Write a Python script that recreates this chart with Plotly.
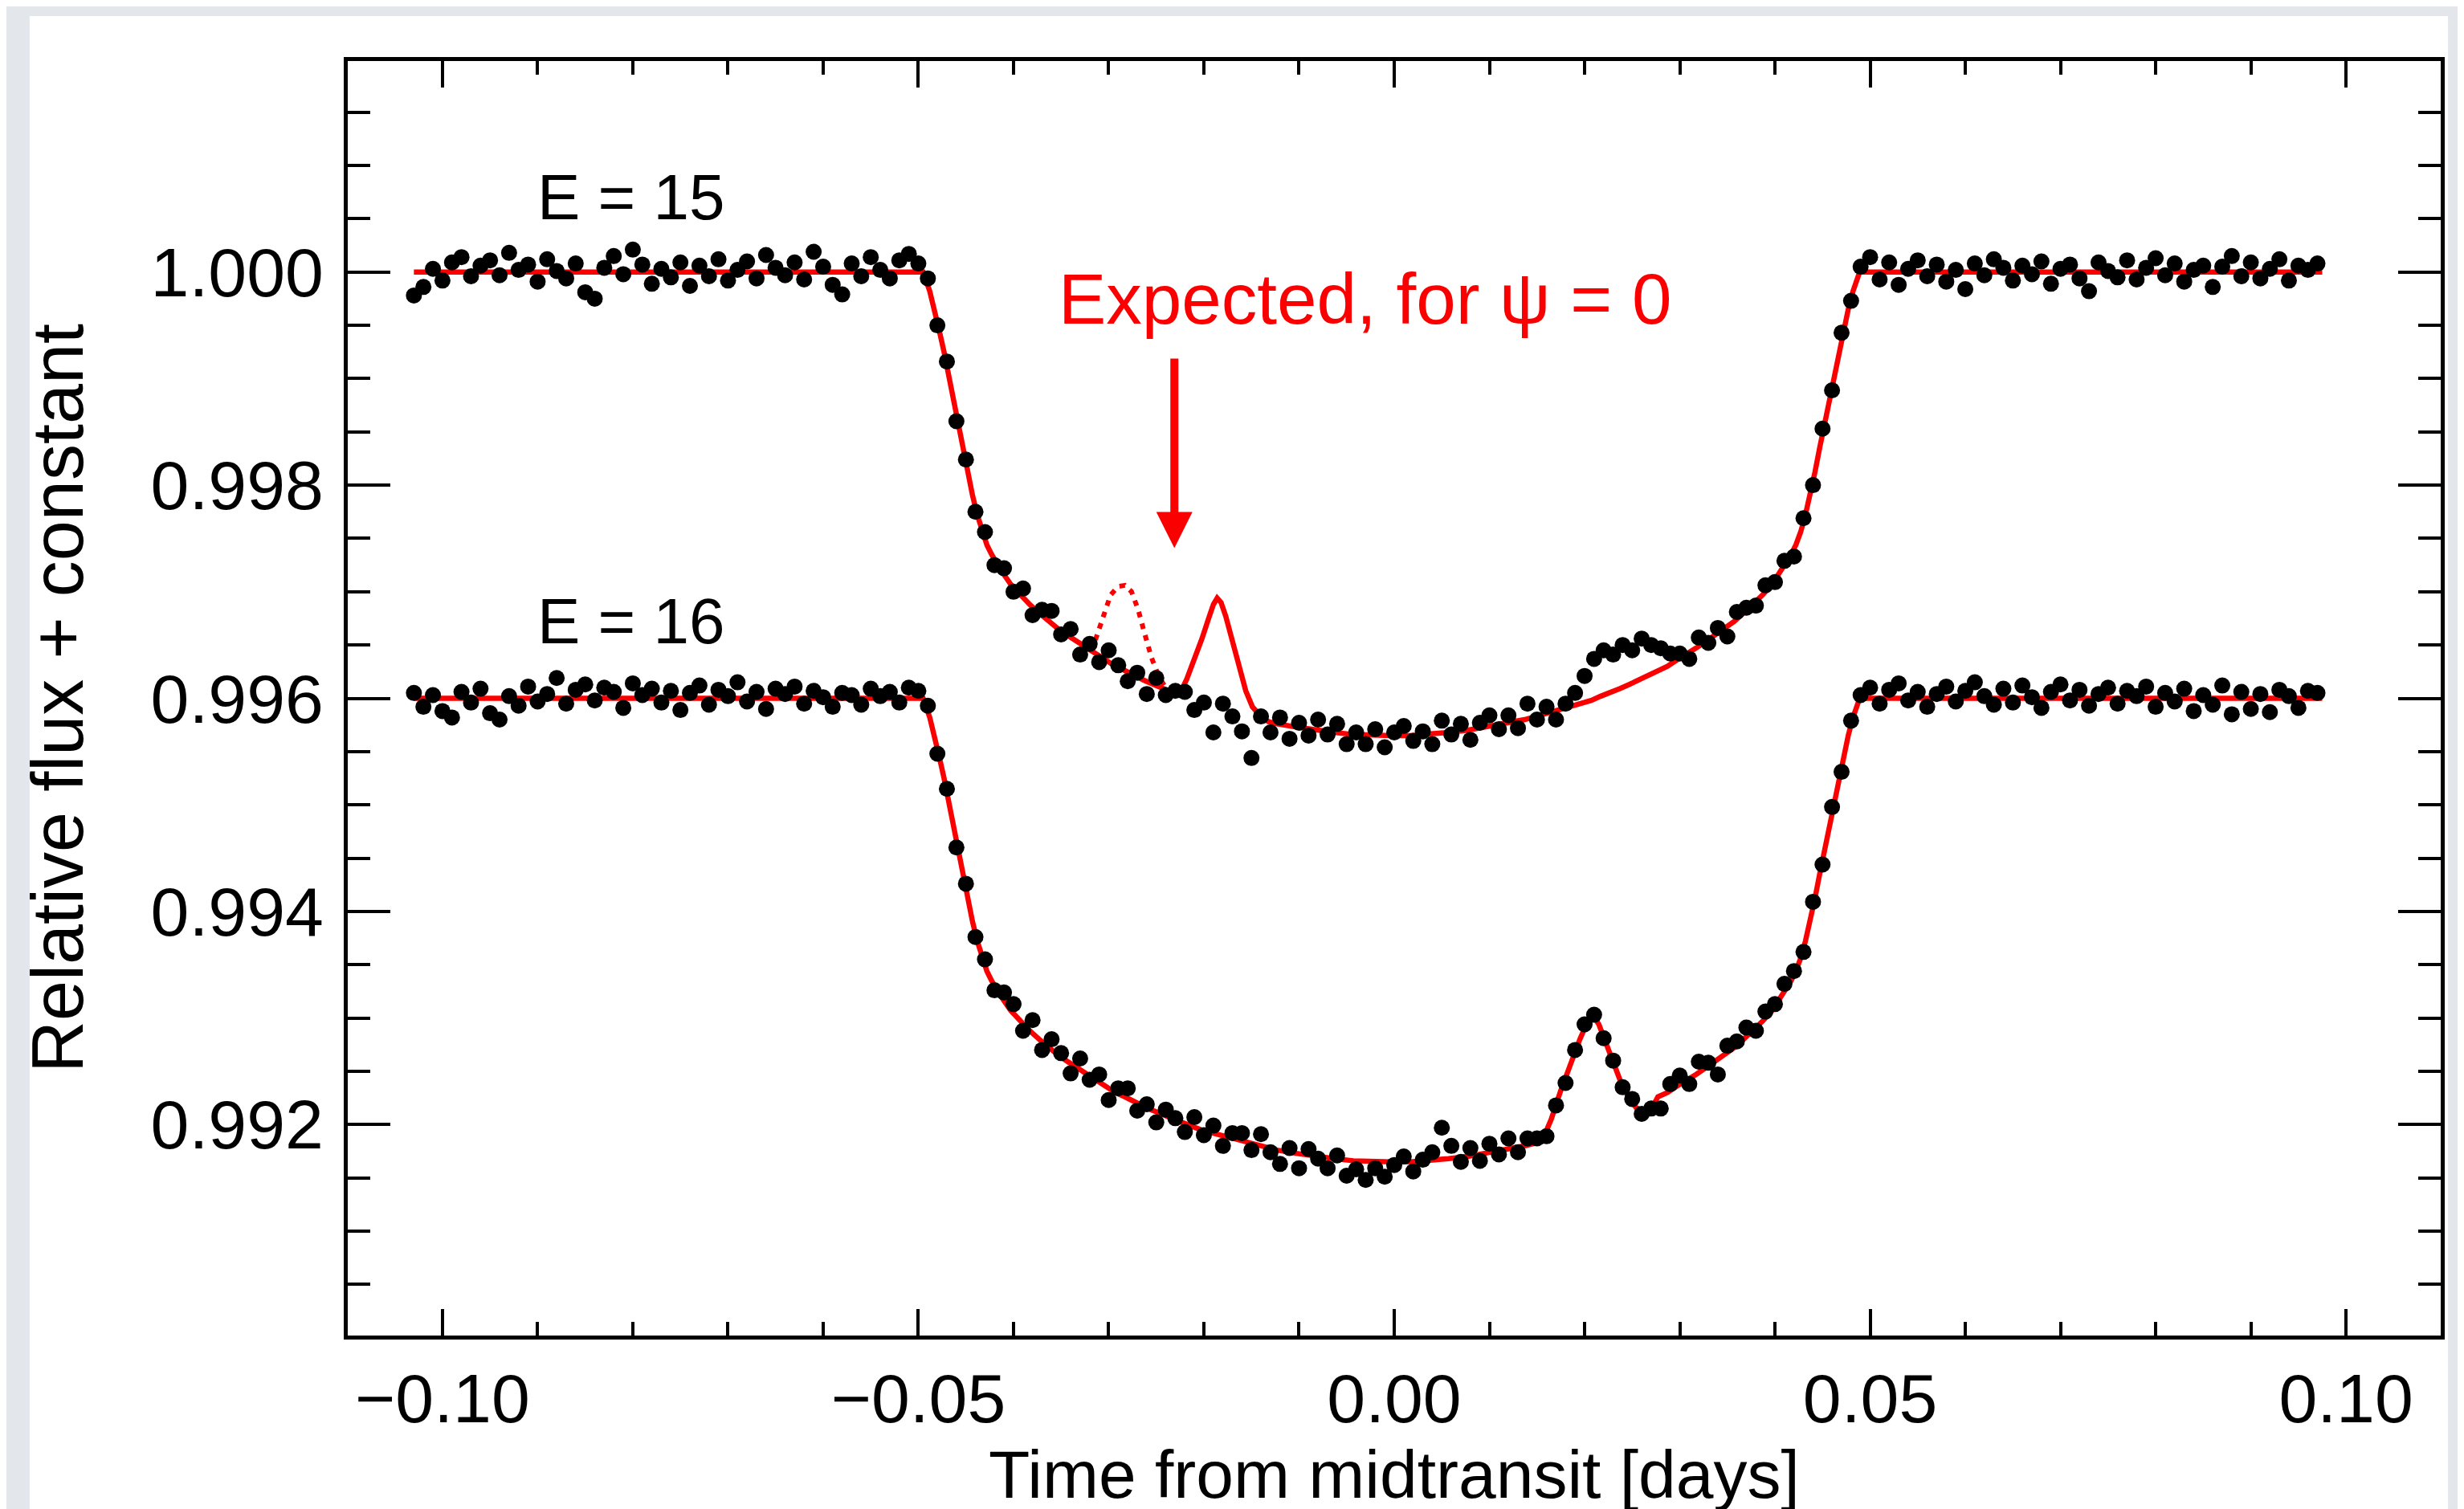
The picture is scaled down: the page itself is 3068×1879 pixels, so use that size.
import plotly.graph_objects as go

# ---------------- data ----------------
time_days = [
    -0.103, -0.102, -0.101, -0.100, -0.099, -0.098, -0.097, -0.096, -0.095, -0.094,
    -0.093, -0.092, -0.091, -0.090, -0.089, -0.088, -0.087, -0.086, -0.085, -0.084,
    -0.083, -0.082, -0.081, -0.080, -0.079, -0.078, -0.077, -0.076, -0.075, -0.074,
    -0.073, -0.072, -0.071, -0.070, -0.069, -0.068, -0.067, -0.066, -0.065, -0.064,
    -0.063, -0.062, -0.061, -0.060, -0.059, -0.058, -0.057, -0.056, -0.055, -0.054,
    -0.053, -0.052, -0.051, -0.050, -0.049, -0.048, -0.047, -0.046, -0.045, -0.044,
    -0.043, -0.042, -0.041, -0.040, -0.039, -0.038, -0.037, -0.036, -0.035, -0.034,
    -0.033, -0.032, -0.031, -0.030, -0.029, -0.028, -0.027, -0.026, -0.025, -0.024,
    -0.023, -0.022, -0.021, -0.020, -0.019, -0.018, -0.017, -0.016, -0.015, -0.014,
    -0.013, -0.012, -0.011, -0.010, -0.009, -0.008, -0.007, -0.006, -0.005, -0.004,
    -0.003, -0.002, -0.001, 0.000, 0.001, 0.002, 0.003, 0.004, 0.005, 0.006,
    0.007, 0.008, 0.009, 0.010, 0.011, 0.012, 0.013, 0.014, 0.015, 0.016,
    0.017, 0.018, 0.019, 0.020, 0.021, 0.022, 0.023, 0.024, 0.025, 0.026,
    0.027, 0.028, 0.029, 0.030, 0.031, 0.032, 0.033, 0.034, 0.035, 0.036,
    0.037, 0.038, 0.039, 0.040, 0.041, 0.042, 0.043, 0.044, 0.045, 0.046,
    0.047, 0.048, 0.049, 0.050, 0.051, 0.052, 0.053, 0.054, 0.055, 0.056,
    0.057, 0.058, 0.059, 0.060, 0.061, 0.062, 0.063, 0.064, 0.065, 0.066,
    0.067, 0.068, 0.069, 0.070, 0.071, 0.072, 0.073, 0.074, 0.075, 0.076,
    0.077, 0.078, 0.079, 0.080, 0.081, 0.082, 0.083, 0.084, 0.085, 0.086,
    0.087, 0.088, 0.089, 0.090, 0.091, 0.092, 0.093, 0.094, 0.095, 0.096, 0.097,
]

flux_e15 = [
    0.99978, 0.99986, 1.00003, 0.99992, 1.00009, 1.00014, 0.99996, 1.00006, 1.00011, 0.99997,
    1.00018, 1.00002, 1.00007, 0.99991, 1.00012, 1.00001, 0.99994, 1.00008, 0.99981, 0.99975,
    1.00004, 1.00015, 0.99998, 1.00021, 1.00007, 0.99989, 1.00003, 0.99995, 1.00009, 0.99987,
    1.00006, 0.99996, 1.00012, 0.99992, 1.00002, 1.00010, 0.99994, 1.00016, 1.00004, 0.99997,
    1.00009, 0.99993, 1.00019, 1.00005, 0.99988, 0.99979, 1.00008, 0.99996, 1.00014, 1.00002,
    0.99994, 1.00011, 1.00017, 1.00008, 0.99994, 0.99950, 0.99916, 0.99860, 0.99824, 0.99775,
    0.99756, 0.99725, 0.99722, 0.99700, 0.99703, 0.99678, 0.99683, 0.99682, 0.99660, 0.99665,
    0.99641, 0.99651, 0.99634, 0.99645, 0.99631, 0.99616, 0.99624, 0.99604, 0.99619, 0.99603,
    0.99607, 0.99606, 0.99589, 0.99596, 0.99568, 0.99595, 0.99583, 0.99569, 0.99544, 0.99583,
    0.99568, 0.99582, 0.99562, 0.99577, 0.99565, 0.99580, 0.99566, 0.99576, 0.99557, 0.99568,
    0.99557, 0.99571, 0.99554, 0.99568, 0.99574, 0.99560, 0.99569, 0.99557, 0.99579, 0.99566,
    0.99576, 0.99561, 0.99577, 0.99584, 0.99571, 0.99584, 0.99572, 0.99595, 0.99580, 0.99592,
    0.99580, 0.99595, 0.99605, 0.99621, 0.99637, 0.99645, 0.99641, 0.99650, 0.99645, 0.99656,
    0.99650, 0.99647, 0.99642, 0.99642, 0.99637, 0.99657, 0.99652, 0.99666, 0.99658, 0.99681,
    0.99685, 0.99687, 0.99706, 0.99709, 0.99729, 0.99733, 0.99769, 0.99800, 0.99853, 0.99889,
    0.99943, 0.99973, 1.00005, 1.00014, 0.99993, 1.00009, 0.99988, 1.00003, 1.00011, 0.99996,
    1.00007, 0.99991, 1.00002, 0.99984, 1.00008, 0.99997, 1.00012, 1.00004, 0.99992, 1.00006,
    0.99998, 1.00010, 0.99989, 1.00003, 1.00007, 0.99994, 0.99982, 1.00009, 1.00001, 0.99995,
    1.00011, 0.99993, 1.00004, 1.00013, 0.99997, 1.00008, 0.99991, 1.00002, 1.00006, 0.99986,
    1.00005, 1.00015, 0.99996, 1.00009, 0.99994, 1.00003, 1.00012, 0.99992, 1.00006, 1.00002, 1.00008,
]

flux_e16 = [
    0.99605, 0.99592, 0.99603, 0.99588, 0.99582, 0.99606, 0.99596, 0.99609, 0.99586, 0.99580,
    0.99602, 0.99593, 0.99611, 0.99597, 0.99604, 0.99619, 0.99595, 0.99608, 0.99613, 0.99598,
    0.99610, 0.99606, 0.99591, 0.99614, 0.99603, 0.99609, 0.99596, 0.99607, 0.99589, 0.99605,
    0.99612, 0.99594, 0.99608, 0.99602, 0.99615, 0.99597, 0.99606, 0.99590, 0.99609, 0.99604,
    0.99611, 0.99595, 0.99607, 0.99601, 0.99592, 0.99605, 0.99603, 0.99594, 0.99609, 0.99602,
    0.99606, 0.99596, 0.99610, 0.99607, 0.99593, 0.99548, 0.99515, 0.99460, 0.99426, 0.99376,
    0.99355, 0.99326, 0.99324, 0.99313, 0.99288, 0.99298, 0.99270, 0.99280, 0.99267, 0.99248,
    0.99262, 0.99242, 0.99247, 0.99223, 0.99234, 0.99234, 0.99213, 0.99219, 0.99202, 0.99214,
    0.99206, 0.99193, 0.99207, 0.99190, 0.99199, 0.99180, 0.99192, 0.99192, 0.99176, 0.99191,
    0.99174, 0.99163, 0.99178, 0.99159, 0.99177, 0.99168, 0.99159, 0.99171, 0.99152, 0.99158,
    0.99148, 0.99159, 0.99151, 0.99162, 0.99170, 0.99156, 0.99167, 0.99174, 0.99197, 0.99180,
    0.99165, 0.99178, 0.99166, 0.99182, 0.99172, 0.99187, 0.99174, 0.99187, 0.99187, 0.99189,
    0.99218, 0.99239, 0.99270, 0.99294, 0.99303, 0.99281, 0.99260, 0.99235, 0.99224, 0.99210,
    0.99215, 0.99215, 0.99238, 0.99246, 0.99238, 0.99259, 0.99258, 0.99247, 0.99274, 0.99278,
    0.99291, 0.99288, 0.99306, 0.99313, 0.99332, 0.99344, 0.99362, 0.99409, 0.99444, 0.99498,
    0.99531, 0.99579, 0.99603, 0.99610, 0.99595, 0.99608, 0.99614, 0.99598, 0.99606, 0.99592,
    0.99604, 0.99611, 0.99597, 0.99607, 0.99615, 0.99602, 0.99594, 0.99609, 0.99596, 0.99612,
    0.99601, 0.99591, 0.99606, 0.99613, 0.99598, 0.99608, 0.99593, 0.99604, 0.99610, 0.99595,
    0.99607, 0.99602, 0.99611, 0.99592, 0.99605, 0.99597, 0.99609, 0.99588, 0.99603, 0.99594,
    0.99612, 0.99585, 0.99606, 0.99590, 0.99604, 0.99587, 0.99608, 0.99602, 0.99591, 0.99607, 0.99605,
]

# best-fit model, E = 15 (includes the predicted spot bump)
model_e15_t = [
    -0.1030, -0.0495, -0.0488, -0.0483, -0.0478, -0.0473, -0.0468, -0.0463, -0.0458, -0.0453,
    -0.0448, -0.0443, -0.0438, -0.0433, -0.0428, -0.0423, -0.0418, -0.0413, -0.0403, -0.0393,
    -0.0383, -0.0373, -0.0363, -0.0353, -0.0343, -0.0333, -0.0323, -0.0313, -0.0303, -0.0293,
    -0.0283, -0.0273, -0.0263, -0.0253, -0.0243, -0.0233, -0.0226,
    -0.0218, -0.0210, -0.0202, -0.0195, -0.0190, -0.0186, -0.0182, -0.0177, -0.0170, -0.0163,
    -0.0156, -0.0149, -0.0141, -0.0132,
    -0.0123, -0.0103, -0.0083, -0.0063, -0.0043, -0.0023, -0.0003, 0.0017, 0.0037, 0.0057,
    0.0077, 0.0097, 0.0117, 0.0137, 0.0157, 0.0177, 0.0197, 0.0207, 0.0217, 0.0227,
    0.0237, 0.0247, 0.0257, 0.0267, 0.0277, 0.0287, 0.0297, 0.0307, 0.0317, 0.0327,
    0.0337, 0.0347, 0.0357, 0.0367, 0.0377, 0.0387, 0.0397, 0.0407, 0.0412, 0.0417,
    0.0422, 0.0427, 0.0432, 0.0437, 0.0442, 0.0447, 0.0452, 0.0457, 0.0462, 0.0467,
    0.0472, 0.0477, 0.0482, 0.0489, 0.0975,
]
model_e15_f = [
    1.00000, 1.00000, 0.99982, 0.99965, 0.99945, 0.99925, 0.99902, 0.99880, 0.99857, 0.99835,
    0.99812, 0.99790, 0.99772, 0.99756, 0.99744, 0.99735, 0.99727, 0.99720, 0.99707, 0.99697,
    0.99688, 0.99680, 0.99672, 0.99665, 0.99659, 0.99653, 0.99647, 0.99641, 0.99636, 0.99630,
    0.99626, 0.99621, 0.99617, 0.99613, 0.99609, 0.99605, 0.99603,
    0.99618, 0.99636, 0.99656, 0.99675, 0.99688, 0.99694, 0.99690, 0.99677, 0.99652, 0.99627,
    0.99607, 0.99592, 0.99584, 0.99578,
    0.99576, 0.99573, 0.99570, 0.99568, 0.99566, 0.99565, 0.99565, 0.99565, 0.99566, 0.99568,
    0.99570, 0.99573, 0.99576, 0.99580, 0.99585, 0.99590, 0.99595, 0.99598, 0.99602, 0.99605,
    0.99609, 0.99613, 0.99617, 0.99621, 0.99626, 0.99630, 0.99636, 0.99641, 0.99647, 0.99653,
    0.99659, 0.99665, 0.99672, 0.99680, 0.99688, 0.99697, 0.99707, 0.99720, 0.99727, 0.99735,
    0.99744, 0.99756, 0.99772, 0.99790, 0.99812, 0.99835, 0.99857, 0.99880, 0.99902, 0.99925,
    0.99945, 0.99965, 0.99982, 1.00000, 1.00000,
]

# best-fit model, E = 16 (includes the observed spot bump)
model_e16_t = [
    -0.1030, -0.0495, -0.0488, -0.0483, -0.0478, -0.0473, -0.0468, -0.0463, -0.0458, -0.0453,
    -0.0448, -0.0443, -0.0438, -0.0433, -0.0428, -0.0423, -0.0418, -0.0413, -0.0403, -0.0393,
    -0.0383, -0.0373, -0.0363, -0.0353, -0.0343, -0.0333, -0.0323, -0.0313, -0.0303, -0.0293,
    -0.0283, -0.0273, -0.0263, -0.0253, -0.0243, -0.0233, -0.0223, -0.0203, -0.0183, -0.0163,
    -0.0143, -0.0123, -0.0103, -0.0083, -0.0063, -0.0043, -0.0023, -0.0003, 0.0017, 0.0037,
    0.0057, 0.0077, 0.0097, 0.0117, 0.0137, 0.0155,
    0.0165, 0.0175, 0.0185, 0.0195, 0.0203, 0.0209, 0.0215, 0.0222, 0.0230, 0.0238,
    0.0246, 0.0254, 0.0262, 0.0270, 0.0277,
    0.0287, 0.0297, 0.0307, 0.0317, 0.0327, 0.0337, 0.0347, 0.0357, 0.0367, 0.0377,
    0.0387, 0.0397, 0.0407, 0.0412, 0.0417, 0.0422, 0.0427, 0.0432, 0.0437, 0.0442,
    0.0447, 0.0452, 0.0457, 0.0462, 0.0467, 0.0472, 0.0477, 0.0482, 0.0489, 0.0975,
]
model_e16_f = [
    0.99600, 0.99600, 0.99582, 0.99565, 0.99545, 0.99525, 0.99502, 0.99480, 0.99457, 0.99435,
    0.99412, 0.99390, 0.99372, 0.99356, 0.99344, 0.99335, 0.99327, 0.99320, 0.99307, 0.99297,
    0.99288, 0.99280, 0.99272, 0.99265, 0.99259, 0.99253, 0.99247, 0.99241, 0.99236, 0.99230,
    0.99226, 0.99221, 0.99217, 0.99213, 0.99209, 0.99205, 0.99202, 0.99195, 0.99190, 0.99185,
    0.99180, 0.99176, 0.99173, 0.99170, 0.99168, 0.99166, 0.99165, 0.99165, 0.99165, 0.99166,
    0.99168, 0.99170, 0.99173, 0.99176, 0.99180, 0.99184,
    0.99205, 0.99232, 0.99257, 0.99280, 0.99296, 0.99302, 0.99294, 0.99277, 0.99257, 0.99240,
    0.99226, 0.99216, 0.99212, 0.99214, 0.99226,
    0.99230, 0.99236, 0.99241, 0.99247, 0.99253, 0.99259, 0.99265, 0.99272, 0.99280, 0.99288,
    0.99297, 0.99307, 0.99320, 0.99327, 0.99335, 0.99344, 0.99356, 0.99372, 0.99390, 0.99412,
    0.99435, 0.99457, 0.99480, 0.99502, 0.99525, 0.99545, 0.99565, 0.99582, 0.99600, 0.99600,
]

# dotted curve: spot bump expected for psi = 0
expected_t = [-0.0318, -0.0312, -0.0305, -0.0298, -0.0290, -0.0283, -0.0276, -0.0269,
              -0.0262, -0.0255, -0.0248, -0.0241]
expected_f = [0.99644, 0.99660, 0.99681, 0.99697, 0.99705, 0.99706, 0.99700, 0.99683,
              0.99660, 0.99638, 0.99622, 0.99611]

x_tick_values = [-0.10, -0.05, 0.00, 0.05, 0.10]
y_tick_values = [0.992, 0.994, 0.996, 0.998, 1.000]

assert len(time_days) == len(flux_e15) == len(flux_e16)
assert len(model_e15_t) == len(model_e15_f)
assert len(model_e16_t) == len(model_e16_f)

# ---------------- figure ----------------
RED = "rgb(250,0,0)"
FONT = "Liberation Sans, Arial, Helvetica, sans-serif"

fig = go.Figure()
fig.add_trace(go.Scatter(x=model_e15_t, y=model_e15_f, mode="lines",
                         line=dict(color=RED, width=6.5), name="model E=15"))
fig.add_trace(go.Scatter(x=model_e16_t, y=model_e16_f, mode="lines",
                         line=dict(color=RED, width=6.5), name="model E=16"))
fig.add_trace(go.Scatter(x=expected_t, y=expected_f, mode="lines",
                         line=dict(color=RED, width=6, dash="7px,8px"),
                         name="expected, psi=0"))
fig.add_trace(go.Scatter(x=time_days, y=flux_e15, mode="markers",
                         marker=dict(color="black", size=20, line=dict(width=0)),
                         name="E = 15"))
fig.add_trace(go.Scatter(x=time_days, y=flux_e16, mode="markers",
                         marker=dict(color="black", size=20, line=dict(width=0)),
                         name="E = 16"))

axis_common = dict(
    showline=True, linewidth=5, linecolor="black", mirror="allticks",
    ticks="inside", tickcolor="black", tickwidth=4,
    showgrid=False, zeroline=False,
    tickfont=dict(family=FONT, size=86, color="black"),
)

fig.update_xaxes(
    range=[-0.10995, 0.10995],
    tickmode="array", tickvals=x_tick_values,
    ticktext=["\u22120.10", "\u22120.05", "0.00", "0.05", "0.10"],
    ticklen=33,
    minor=dict(ticks="inside", tickmode="linear", tick0=0, dtick=0.01,
               ticklen=17, tickwidth=4, tickcolor="black"),
    title=dict(text="Time from midtransit [days]", standoff=6,
               font=dict(family=FONT, size=84, color="black")),
    **axis_common,
)
fig.update_yaxes(
    range=[0.99002, 1.00198],
    tickmode="array", tickvals=y_tick_values,
    ticktext=["0.992", "0.994", "0.996", "0.998", "1.000"],
    ticklen=53, ticklabelstandoff=8,
    minor=dict(ticks="inside", tickmode="linear", tick0=0.990, dtick=0.0005,
               ticklen=28, tickwidth=4, tickcolor="black"),
    title=dict(text="Relative flux + constant", standoff=56,
               font=dict(family=FONT, size=90, color="black")),
    **axis_common,
)

fig.add_annotation(x=-0.0802, y=1.00070, text="E = 15", showarrow=False,
                   font=dict(family=FONT, size=80, color="black"),
                   xanchor="center", yanchor="middle")
fig.add_annotation(x=-0.0802, y=0.99672, text="E = 16", showarrow=False,
                   font=dict(family=FONT, size=80, color="black"),
                   xanchor="center", yanchor="middle")
fig.add_annotation(x=-0.0030, y=0.99975, text="Expected, for \u03c8 = 0",
                   showarrow=False, font=dict(family=FONT, size=89, color=RED),
                   xanchor="center", yanchor="middle")
fig.add_annotation(x=-0.0231, y=0.99741, ax=-0.0231, ay=0.99920,
                   axref="x", ayref="y", text="", showarrow=True,
                   arrowhead=2, arrowwidth=10, arrowsize=0.9, arrowcolor=RED,
                   standoff=0)

# white card behind the plot
fig.add_shape(type="rect", xref="paper", yref="paper",
              x0=-0.152, x1=1.0035, y0=-0.17, y1=1.0353,
              fillcolor="white", line=dict(width=0), layer="below")

fig.update_layout(
    width=3068, height=1879,
    margin=dict(l=425, r=37, t=68, b=224),
    paper_bgcolor="#e3e6ea", plot_bgcolor="white",
    showlegend=False,
    font=dict(family=FONT, color="black"),
)

fig.write_html("out.html")
